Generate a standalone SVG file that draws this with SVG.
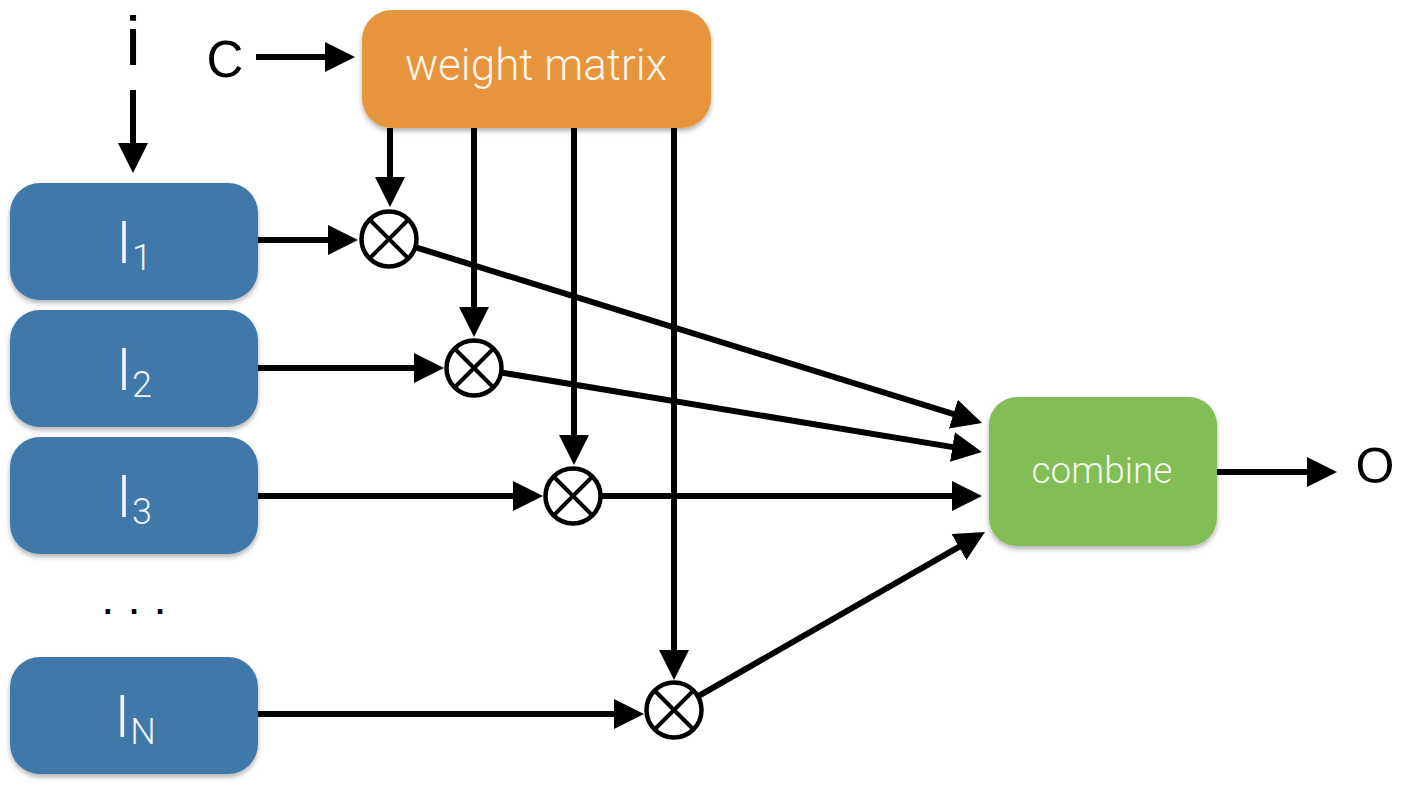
<svg xmlns="http://www.w3.org/2000/svg" width="1404" height="786" viewBox="0 0 1404 786">
<style>
.box{filter:url(#sh)}
.blue{fill:#3F78A9}
.orange{fill:#E7953C}
.green{fill:#82BD56}
.lbl{font-family:Roboto,"Liberation Sans",sans-serif;font-weight:300;fill:#FFFFFF;fill-opacity:0.93}
.blk{font-family:"Liberation Sans",Arial,sans-serif;fill:#000}
.conn line{stroke:#000;stroke-width:6;marker-end:url(#ah)}
.mul circle{fill:#fff;stroke:#000;stroke-width:4.5}
.mul path{stroke:#000;stroke-width:4;fill:none}
</style>
<defs>
<filter id="sh" x="-10%" y="-10%" width="120%" height="130%">
<feDropShadow dx="0" dy="3" stdDeviation="2.5" flood-color="#000" flood-opacity="0.3"/>
</filter>
<marker id="ah" markerUnits="userSpaceOnUse" markerWidth="32" markerHeight="32" viewBox="0 -16 32 32" refX="2" refY="0" orient="auto">
<path d="M0,-15 L30,0 L0,15 Z" fill="#000"/>
</marker>
</defs>
<rect width="1404" height="786" fill="#fff"/>

<g id="conn" class="conn">
<line x1="133" y1="90" x2="133" y2="145"/>
<line x1="256" y1="57" x2="327" y2="57"/>
<line x1="390" y1="128" x2="390" y2="179"/>
<line x1="474" y1="128" x2="474" y2="309"/>
<line x1="574" y1="128" x2="574" y2="437"/>
<line x1="674" y1="128" x2="674" y2="652"/>
<line x1="258" y1="240" x2="330" y2="240"/>
<line x1="258" y1="368" x2="416" y2="368"/>
<line x1="258" y1="496" x2="515" y2="496"/>
<line x1="258" y1="714" x2="616" y2="714"/>
<line x1="416.7" y1="247.6" x2="955.3" y2="414.7"/>
<line x1="502.6" y1="372.7" x2="954.4" y2="447.4"/>
<line x1="602" y1="496" x2="954" y2="496"/>
<line x1="699.2" y1="695.6" x2="960.7" y2="545.9"/>
<line x1="1216" y1="472" x2="1309" y2="472"/>
</g>

<g id="in-i"><text class="blk" x="133" y="65" font-size="68" text-anchor="middle">i</text></g>
<g id="in-c"><text class="blk" x="225" y="77" font-size="51" text-anchor="middle">C</text></g>

<g id="weight-matrix">
<rect class="box orange" x="362" y="10" width="349" height="118" rx="30"/>
<text class="lbl" x="536" y="80" font-size="44" text-anchor="middle">weight matrix</text>
</g>

<g id="I1">
<rect class="box blue" x="10" y="183" width="248" height="117" rx="30"/>
<text class="lbl" x="134" y="263" font-size="60" text-anchor="middle">I<tspan font-size="36" dy="7">1</tspan></text>
</g>
<g id="I2">
<rect class="box blue" x="10" y="310" width="248" height="117" rx="30"/>
<text class="lbl" x="134" y="390" font-size="60" text-anchor="middle">I<tspan font-size="36" dy="7">2</tspan></text>
</g>
<g id="I3">
<rect class="box blue" x="10" y="437" width="248" height="117" rx="30"/>
<text class="lbl" x="134" y="517" font-size="60" text-anchor="middle">I<tspan font-size="36" dy="7">3</tspan></text>
</g>
<g id="dots"><text class="blk" x="134" y="614" font-size="47" text-anchor="middle">. . .</text></g>
<g id="IN">
<rect class="box blue" x="10" y="657" width="248" height="117" rx="30"/>
<text class="lbl" x="135" y="737" font-size="60" text-anchor="middle">I<tspan font-size="36" dy="7">N</tspan></text>
</g>

<g id="mul1" class="mul"><circle cx="389" cy="239" r="27.5"/><path d="M369.5,219.5 L408.5,258.5 M408.5,219.5 L369.5,258.5"/></g>
<g id="mul2" class="mul"><circle cx="474" cy="368" r="27.5"/><path d="M454.5,348.5 L493.5,387.5 M493.5,348.5 L454.5,387.5"/></g>
<g id="mul3" class="mul"><circle cx="573" cy="496" r="27.5"/><path d="M553.5,476.5 L592.5,515.5 M592.5,476.5 L553.5,515.5"/></g>
<g id="mul4" class="mul"><circle cx="674" cy="710" r="27.5"/><path d="M654.5,690.5 L693.5,729.5 M693.5,690.5 L654.5,729.5"/></g>

<g id="combine">
<rect class="box green" x="989" y="397" width="228" height="149" rx="28"/>
<text class="lbl" x="1102" y="483" font-size="37" text-anchor="middle">combine</text>
</g>
<g id="out-o"><text class="blk" x="1375" y="483" font-size="50" text-anchor="middle">O</text></g>
</svg>
